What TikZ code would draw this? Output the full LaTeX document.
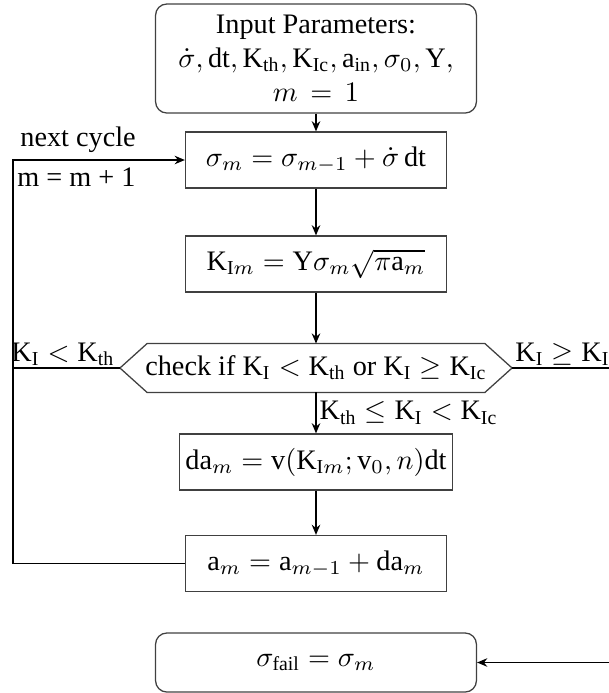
\documentclass[tikz,border=0pt]{standalone}
\usepackage{amsmath}
\usepackage{fontspec}
\setmainfont{Liberation Serif}
\usetikzlibrary{arrows.meta, calc}

\begin{document}
\begin{tikzpicture}[
        x=0.354pt, y=-0.354pt,
        box/.style={draw=black!75, line width=0.45pt, minimum width=92.4pt,
                    minimum height=19.8pt, inner sep=2pt},
        rbox/.style={box, rounded corners=4pt, minimum width=113.6pt},
        arr/.style={-{Stealth[length=3.6pt, width=3pt]}, line width=0.6pt},
        wire/.style={line width=0.6pt},
        lbl/.style={inner sep=1pt}
    ]
    \useasboundingbox (0,0) rectangle (609,693);
    % steps of one cycle
    \node[rbox, minimum height=38.6pt, align=center] (inp) at (316,58.5)
        {Input Parameters:\\
         $\dot{\sigma},\mathrm{dt},\mathrm{K_{th}},\mathrm{K_{Ic}},\mathrm{a_{in}},\sigma_0,\mathrm{Y},$\\
         $m\,=\,1$};
    \node[box] (sig) at (316,160)
        {$\sigma_m=\sigma_{m-1}+\dot{\sigma}\,\mathrm{dt}$};
    \node[box] (kim) at (316,264)
        {$\mathrm{K}_{\mathrm{I}m}=\mathrm{Y}\sigma_m\sqrt{\pi\mathrm{a}_m}$};
    \node[minimum width=138.4pt, minimum height=16.9pt, inner sep=0pt] (check) at (316,368)
        {check if $\mathrm{K_I}<\mathrm{K_{th}}$ or $\mathrm{K_I}\geq\mathrm{K_{Ic}}$};
    \draw[draw=black!75, line width=0.45pt] (check.west)
        -- ([xshift=9.6pt]check.north west) -- ([xshift=-9.6pt]check.north east)
        -- (check.east) -- ([xshift=-9.6pt]check.south east)
        -- ([xshift=9.6pt]check.south west) -- cycle;
    \node[box] (dam) at (316,462)
        {$\mathrm{da}_m=\mathrm{v}(\mathrm{K}_{\mathrm{I}m};\mathrm{v}_0,n)\mathrm{dt}$};
    \node[box] (am) at (316,563.5)
        {$\mathrm{a}_m=\mathrm{a}_{m-1}+\mathrm{da}_m$};
    \node[rbox, minimum height=20.9pt] (fail) at (316,662.5)
        {$\sigma_{\mathrm{fail}}=\sigma_m$};
    % turning points of the loops
    \coordinate (lft) at (13,0);
    \coordinate (rgt) at (630,368);
    % straight flow
    \draw[arr] (inp) -- (sig);
    \draw[arr] (sig) -- (kim);
    \draw[arr] (kim) -- (check.north);
    \draw[arr] (check.south) -- (dam)
        node[midway, right, lbl] {$\mathrm{K_{th}}\leq\mathrm{K_I}<\mathrm{K_{Ic}}$};
    \draw[arr] (dam) -- (am);
    % back to the next cycle
    \draw[arr] (am.west) -- (am.west -| lft) -- (sig.west -| lft) -- (sig.west);
    \draw[wire] (check.west) -- (check.west -| lft);
    \node[lbl, anchor=west] (nxt) at (17,140) {next cycle};
    \node[lbl, anchor=west] (inc) at (14,177) {m = m + 1};
    \node[lbl, anchor=east] (low) at (118,354) {$\mathrm{K_I}<\mathrm{K_{th}}$};
    % failure
    \draw[arr] (check.east) -- (rgt) |- (fail.east);
    \node[lbl, anchor=west] (high) at (512,354) {$\mathrm{K_I}\geq\mathrm{K_{Ic}}$};
\end{tikzpicture}
\end{document}
